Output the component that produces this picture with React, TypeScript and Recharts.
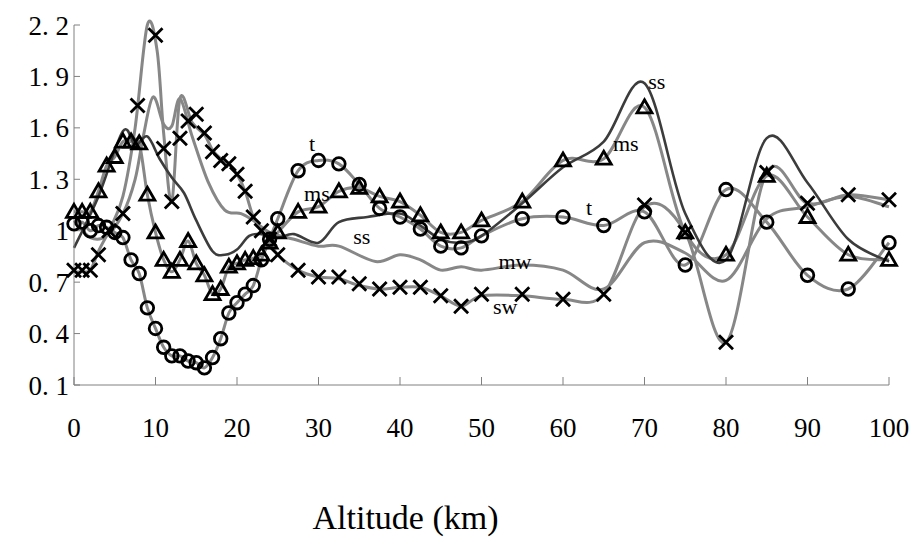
import { ComposedChart, Line, XAxis, YAxis, ReferenceDot } from 'recharts'

// altitude grid of the circle / triangle profiles (km)
const altGrid = [0, 1, 2, 3, 4, 5, 6, 7, 8, 9, 10, 11, 12, 13, 14, 15, 16, 17, 18, 19, 20, 21, 22, 23, 24, 25, 27.5, 30, 32.5, 35, 37.5, 40, 42.5, 45, 47.5, 50, 55, 60, 65, 70, 75, 80, 85, 90, 95, 100]

const tValues = [1.04, 1.05, 1.0, 1.03, 1.02, 0.99, 0.96, 0.83, 0.75, 0.55, 0.43, 0.32, 0.27, 0.27, 0.24, 0.23, 0.2, 0.26, 0.37, 0.52, 0.58, 0.63, 0.68, 0.83, 0.95, 1.07, 1.35, 1.41, 1.39, 1.27, 1.13, 1.08, 1.01, 0.91, 0.9, 0.97, 1.07, 1.08, 1.03, 1.11, 0.8, 1.24, 1.05, 0.74, 0.66, 0.93]
const msValues = [1.11, 1.11, 1.11, 1.23, 1.38, 1.43, 1.52, 1.52, 1.51, 1.21, 0.99, 0.83, 0.76, 0.83, 0.94, 0.81, 0.74, 0.63, 0.66, 0.79, 0.81, 0.83, 0.84, 0.86, 0.93, 0.99, 1.11, 1.14, 1.23, 1.25, 1.2, 1.17, 1.09, 0.99, 0.99, 1.06, 1.17, 1.41, 1.42, 1.72, 0.99, 0.86, 1.32, 1.08, 0.86, 0.83]

const swMarkAlt = [0, 1, 2, 3, 4.3, 6, 7.8, 10, 11, 12, 13, 14, 15, 16, 17, 18, 19, 20, 21, 22, 23, 24, 25, 27.5, 30, 32.5, 35, 37.5, 40, 42.5, 45, 47.5, 50, 55, 60, 65, 70, 75, 80, 85, 90, 95, 100]
const swMarkValues = [0.77, 0.77, 0.77, 0.86, 1.0, 1.1, 1.73, 2.14, 1.48, 1.17, 1.54, 1.64, 1.68, 1.57, 1.46, 1.41, 1.39, 1.33, 1.23, 1.08, 1.0, 0.95, 0.86, 0.77, 0.73, 0.73, 0.69, 0.66, 0.67, 0.67, 0.62, 0.56, 0.63, 0.63, 0.6, 0.63, 1.15, 0.99, 0.35, 1.34, 1.16, 1.21, 1.18]

const swLineAlt = [0, 1, 2, 3, 4.5, 6, 7.5, 9, 10.2, 11, 12, 13, 14.5, 16, 17, 18, 19, 20, 21, 22, 23, 24, 25, 27.5, 30, 32.5, 35, 37.5, 40, 42.5, 45, 47.5, 50, 55, 60, 65, 70, 75, 80, 85, 90, 95, 100]
const swLineValues = [0.76, 0.76, 0.77, 0.88, 1.02, 1.2, 1.6, 2.2, 2.05, 1.57, 1.17, 1.77, 1.63, 1.56, 1.47, 1.42, 1.39, 1.33, 1.23, 1.08, 1.0, 0.94, 0.86, 0.77, 0.73, 0.72, 0.68, 0.66, 0.67, 0.67, 0.62, 0.56, 0.62, 0.62, 0.6, 0.63, 1.14, 0.99, 0.35, 1.34, 1.16, 1.21, 1.18]

const ssAlt = [0, 3, 6, 7.5, 9, 10.5, 12, 13.5, 15, 17, 18.5, 20, 21.5, 23, 25, 27, 30, 32.5, 36, 40, 42.5, 45, 47.5, 50, 55, 60, 65, 70, 75, 80, 85, 90, 95, 100]
const ssValues = [0.9, 1.2, 1.58, 1.5, 1.55, 1.42, 1.31, 1.22, 1.06, 0.88, 0.86, 0.89, 0.97, 0.98, 0.96, 0.98, 0.93, 1.05, 1.08, 1.1, 1.03, 0.95, 0.93, 0.97, 1.16, 1.37, 1.52, 1.86, 1.1, 0.83, 1.54, 1.28, 0.95, 0.82]

const mwAlt = [0, 2, 4, 6, 7.5, 8.5, 9.7, 11, 12, 13, 14.5, 16.5, 18.5, 20.5, 22, 24, 27, 30, 32.5, 37, 40, 42.5, 45, 47.5, 50, 55, 60, 65, 70, 75, 80, 85, 90, 95, 100]
const mwValues = [1.06, 0.96, 0.97, 1.1, 1.3, 1.55, 1.78, 1.62, 1.61, 1.77, 1.55, 1.28, 1.12, 1.1, 1.06, 0.99, 0.95, 0.91, 0.91, 0.82, 0.86, 0.83, 0.77, 0.79, 0.77, 0.8, 0.77, 0.66, 0.93, 0.87, 0.71, 1.07, 1.14, 1.2, 1.14]

const xTicks = [0, 10, 20, 30, 40, 50, 60, 70, 80, 90, 100]
const yTicks = [0.1, 0.4, 0.7, 1, 1.3, 1.6, 1.9, 2.2]

// in-plot series names
const noteText = ['t', 'ms', 'ss', 'mw', 'sw', 't', 'ss', 'ms']
const noteAlt = [29.2, 29.8, 35.3, 54.1, 52.9, 63.2, 71.5, 67.7]
const noteValue = [1.51, 1.22, 0.97, 0.82, 0.56, 1.14, 1.87, 1.51]

const toPoints = (xs: number[], ys: number[]) => xs.map((alt, i) => ({ alt, v: ys[i] }))

const FONT = '"Liberation Serif", "DejaVu Serif", serif'
const GRAY = '#878787'
const DARK = '#3c3c3c'

// Excel style smoothed line (Catmull-Rom through every point)
const excelSmooth = (ctx: any) => {
  let pts: number[][] = []
  return {
    areaStart() {},
    areaEnd() {},
    lineStart() { pts = [] },
    point(x: number, y: number) { pts.push([+x, +y]) },
    lineEnd() {
      const n = pts.length
      if (!n) return
      ctx.moveTo(pts[0][0], pts[0][1])
      for (let i = 0; i < n - 1; i++) {
        const p0 = pts[Math.max(i - 1, 0)]
        const p1 = pts[i]
        const p2 = pts[i + 1]
        const p3 = pts[Math.min(i + 2, n - 1)]
        ctx.bezierCurveTo(
          p1[0] + (p2[0] - p0[0]) / 6, p1[1] + (p2[1] - p0[1]) / 6,
          p2[0] - (p3[0] - p1[0]) / 6, p2[1] - (p3[1] - p1[1]) / 6,
          p2[0], p2[1],
        )
      }
    },
  }
}

const CircleMark = ({ cx, cy }: any) =>
  cx == null ? null : <circle cx={cx} cy={cy} r={6.3} fill="none" stroke="#000" strokeWidth={2.8} />

const TriangleMark = ({ cx, cy }: any) =>
  cx == null ? null : (
    <path d={`M${cx},${cy - 7.5}L${cx + 7.5},${cy + 5.5}L${cx - 7.5},${cy + 5.5}Z`} fill="none" stroke="#000" strokeWidth={2.8} />
  )

const CrossMark = ({ cx, cy }: any) =>
  cx == null ? null : (
    <path d={`M${cx - 7},${cy - 7}L${cx + 7},${cy + 7}M${cx + 7},${cy - 7}L${cx - 7},${cy + 7}`} stroke="#000" strokeWidth={2.8} />
  )

export default function App() {
  const tPts = toPoints(altGrid, tValues)
  const msPts = toPoints(altGrid, msValues)
  const swMarks = toPoints(swMarkAlt, swMarkValues)
  const swLine = toPoints(swLineAlt, swLineValues)
  const ssLine = toPoints(ssAlt, ssValues)
  const mwLine = toPoints(mwAlt, mwValues)

  return (
    <div style={{ position: 'absolute', left: 0, top: 0, width: 912, height: 541, background: '#fff' }}>
      <ComposedChart width={912} height={541} margin={{ top: 25, right: 23, bottom: 96, left: 0 }}>
        <XAxis
          dataKey="alt"
          type="number"
          domain={[0, 100]}
          ticks={xTicks}
          interval={0}
          height={60}
          stroke="#808080"
          tickSize={-8}
          tickMargin={41}
          tick={{ fill: '#000', fontSize: 27, fontFamily: FONT }}
          label={{ value: 'Altitude (km)', position: 'bottom', offset: 60, dx: -76, fill: '#000', fontSize: 34, fontFamily: FONT }}
        />
        <YAxis
          dataKey="v"
          type="number"
          domain={[0.1, 2.2]}
          ticks={yTicks}
          interval={0}
          width={74}
          stroke="#808080"
          tickSize={-6}
          tickMargin={11}
          tick={{ fill: '#000', fontSize: 27, fontFamily: FONT }}
          tickFormatter={(v: number) => String(v).replace('.', '. ')}
        />

        <Line data={mwLine} dataKey="v" type={excelSmooth as any} stroke={GRAY} strokeWidth={3} dot={false} activeDot={false} isAnimationActive={false} />
        <Line data={swLine} dataKey="v" type={excelSmooth as any} stroke={GRAY} strokeWidth={3} dot={false} activeDot={false} isAnimationActive={false} />
        <Line data={tPts} dataKey="v" type={excelSmooth as any} stroke={GRAY} strokeWidth={3} dot={false} activeDot={false} isAnimationActive={false} />
        <Line data={msPts} dataKey="v" type={excelSmooth as any} stroke={GRAY} strokeWidth={3} dot={false} activeDot={false} isAnimationActive={false} />
        <Line data={ssLine} dataKey="v" type={excelSmooth as any} stroke={DARK} strokeWidth={2.6} dot={false} activeDot={false} isAnimationActive={false} />

        <Line data={tPts} dataKey="v" stroke="none" dot={(p: any) => <CircleMark key={p.index} {...p} />} activeDot={false} isAnimationActive={false} />
        <Line data={msPts} dataKey="v" stroke="none" dot={(p: any) => <TriangleMark key={p.index} {...p} />} activeDot={false} isAnimationActive={false} />
        <Line data={swMarks} dataKey="v" stroke="none" dot={(p: any) => <CrossMark key={p.index} {...p} />} activeDot={false} isAnimationActive={false} />

        {noteText.map((text, i) => (
          <ReferenceDot
            key={i}
            x={noteAlt[i]}
            y={noteValue[i]}
            r={0}
            fill="none"
            stroke="none"
            label={{ value: text, position: 'center', fill: '#000', fontSize: 22, fontFamily: FONT }}
          />
        ))}
      </ComposedChart>
    </div>
  )
}
